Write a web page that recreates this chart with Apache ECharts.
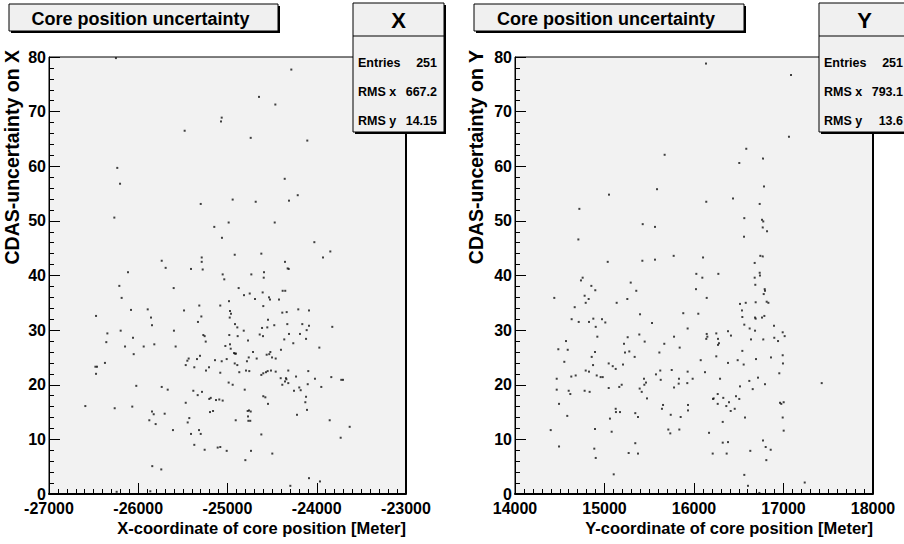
<!DOCTYPE html>
<html>
<head>
<meta charset="utf-8">
<script src="https://cdn.jsdelivr.net/npm/echarts@6/dist/echarts.min.js"></script>
<style>
  html, body { margin: 0; padding: 0; background: #fff; }
  #chart { width: 904px; height: 544px; }
</style>
</head>
<body>
<div id="chart"></div>
<script>
// Shower core position (X and Y, metres) against the CDAS core uncertainty.
const coreX = [
  -26250, -25065, -25073, -25480, -26235, -26204, -26268, -25300, -24942, -24987, -25148, -25062,
  -24285, -24647, -24464, -24740, -24106, -24359, -24213, -24311, -24684, -24471, -24027,
  -26473, -26480, -26462, -26473, -26373, -26346, -26358, -26593, -26264, -26212, -26186, -26115,
  -26197, -26081, -26148, -26059, -26051, -26022, -26067, -25939, -25894, -25857, -25846, -25820,
  -25737, -25693, -25603, -25600, -25581, -25737, -25670, -25876, -25846, -25827, -25805, -25704,
  -25611, -25843, -25742, -25865, -26242, -25487, -25468, -25450, -25435, -25468, -25446, -25428,
  -25409, -25409, -25383, -25372, -25372, -25342, -25334, -25331, -25316, -25308, -25319, -25300,
  -25293, -25289, -25289, -25278, -25286, -25271, -25256, -25244, -25241, -25256, -25207, -25204,
  -25188, -25196, -25162, -25140, -25129, -25092, -25081, -25081, -25065, -25054, -25110, -25081,
  -25009, -25054, -25036, -25024, -25009, -24987, -24983, -24975, -24972, -24961, -24980, -24972,
  -24964, -24942, -24927, -24916, -24916, -24905, -24919, -24908, -24919, -24890, -24886, -24890,
  -24875, -24868,
  -24621, -23848, -23930, -24356, -24326, -24314, -24733, -24591, -24594, -24815, -24751, -24692,
  -24606, -24599, -24535, -24524, -24423, -24382, -24353, -24386, -24337, -24207, -24087, -24546,
  -24613, -24554, -24476, -24330, -24162, -24087, -24113, -23826, -24818, -24639, -24602, -24311,
  -24188, -24364, -24120, -24770, -24263, -23971, -24401, -24714, -24520, -24532, -24561, -24762,
  -24782, -24673, -24501, -24460, -24793, -24756, -24621, -24599, -24569, -24550, -24513, -24460,
  -24319, -24095, -24232, -24404, -24345, -24340, -24356, -24319, -24386, -24020, -23837, -23725,
  -23706, -24101, -23949, -24255, -24196, -24180, -24807, -24599, -24576, -24546, -24120, -24128,
  -24109, -24221, -24774, -24759, -24740, -24770, -24766, -24745, -23855, -23631, -23732, -24621,
  -24737, -24800, -24498, -24087, -23964, -24296
];
const errOnX = [
  79.8, 68.9, 68.2, 66.5, 59.7, 56.8, 50.6, 53.1, 53.9, 49.7, 48.9, 46.9,
  77.7, 72.7, 71.3, 65.2, 64.7, 57.7, 54.7, 53.7, 53.5, 49.7, 46.1,
  32.6, 23.3, 23.3, 22.0, 24.0, 29.4, 27.8, 16.1, 15.7, 38.1, 35.9, 40.6,
  29.9, 33.7, 27.0, 28.6, 25.6, 19.8, 16.0, 27.0, 33.8, 32.3, 30.9, 27.4,
  42.7, 41.4, 37.7, 29.9, 27.0, 19.6, 19.1, 13.5, 15.1, 14.6, 12.8, 14.7,
  11.7, 5.1, 4.5, 0.5, 0.4, 33.6, 23.6, 24.4, 24.8, 16.7, 13.1, 13.9,
  11.0, 41.2, 18.9, 23.2, 9.0, 24.7, 18.1, 31.5, 34.5, 25.3, 11.7, 11.0,
  32.5, 43.3, 42.5, 41.1, 18.7, 29.1, 28.9, 27.9, 22.6, 8.1, 23.2, 17.4,
  17.6, 15.0, 15.2, 24.5, 17.2, 17.3, 34.5, 22.2, 24.3, 17.1, 8.5, 8.6,
  7.9, 40.2, 39.3, 27.1, 24.7, 20.4, 35.3, 32.3, 33.5, 33.0, 29.1, 27.4,
  26.6, 20.0, 25.8, 31.1, 25.7, 25.7, 43.8, 13.5, 23.9, 30.5, 28.9, 23.6,
  37.7, 22.3,
  44.0, 44.4, 43.3, 42.5, 41.3, 41.2, 40.2, 40.6, 39.6, 36.4, 36.7, 35.7,
  36.9, 34.4, 36.0, 35.6, 35.6, 37.2, 37.2, 33.2, 33.3, 33.8, 33.6, 31.9,
  30.4, 30.5, 30.9, 31.1, 31.1, 30.8, 30.0, 30.6, 29.9, 29.2, 28.9, 29.3,
  29.3, 28.3, 28.4, 28.1, 27.6, 26.8, 26.4, 26.0, 26.0, 25.6, 25.5, 25.0,
  24.3, 24.8, 25.0, 24.8, 22.6, 22.5, 21.8, 22.1, 22.3, 22.5, 22.6, 22.4,
  22.6, 22.5, 21.5, 21.2, 21.2, 21.0, 20.6, 20.3, 20.0, 21.1, 21.4, 20.9,
  20.9, 20.1, 19.6, 18.9, 19.5, 19.0, 19.1, 17.9, 17.7, 16.5, 17.8, 16.8,
  15.4, 14.5, 15.2, 15.3, 15.1, 14.2, 13.4, 13.4, 13.5, 12.3, 10.3, 10.9,
  7.9, 6.2, 7.4, 2.9, 2.3, 1.5
];

const coreY = [
  15672, 15587, 15050, 14719, 15427, 15564, 14708, 15036, 15423, 15564, 15773,
  16134, 17084, 17061, 16584, 16771, 16506, 16782, 16436, 16137, 16734, 16562, 16760,
  16774, 16768, 16816, 16559, 16101, 16741, 16768, 16678, 16026, 16272, 16734,
  14756, 14737, 14439, 14853, 14897, 14778, 14823, 14790, 14667, 14633, 14712, 14827,
  14875, 14902, 14972, 15009, 15136, 15255, 15293, 15355, 15397, 15531, 15880, 15929,
  14920, 15259, 15389, 15449, 15218, 14570, 14484, 14589, 14894, 15229, 15277, 15337,
  15613, 15668, 15777, 15840, 14857, 14551, 14872, 15047, 15092, 15125, 15207, 14790,
  14827, 14913, 14957, 14980, 14629, 14678, 14466, 14466, 14600, 14618, 14492, 14584,
  14399, 14492, 14778, 14834, 15047, 15165, 15192, 15393, 15416, 15445, 15464, 15441,
  15575, 15623, 15628, 15751, 15777, 15829, 15832, 15929, 15925, 15475, 15125, 15128,
  15173, 15061, 15344, 15374, 15654, 15642, 15740, 15851, 15933, 15933, 14894, 15080,
  15713, 15735, 15836, 14886, 14902, 15344, 15270, 15374, 15103,
  16737, 16678, 16093, 16022, 16685, 16790, 16793, 16779, 16142, 16514, 16578, 16689,
  16812, 16831, 16048, 16536, 16540, 16682, 16689, 16760, 16786, 16562, 16622, 16682,
  16894, 16380, 16413, 16249, 16142, 16149, 16137, 16268, 16279, 16268, 16991, 17013,
  16637, 16774, 16897, 16939, 16540, 16249, 16075, 16488, 16693, 16860, 16991, 16380,
  16555, 16994, 16123, 15985, 16291, 16715, 16953, 16618, 16793, 16514, 16656, 17427,
  16265, 16212, 16220, 16327, 16469, 16506, 16265, 16391, 16361, 16455, 16410, 16570,
  16961, 16975, 17002, 16991, 16321, 16168, 17002, 16771, 16321, 16380, 16801, 16857,
  16209, 16365, 16629, 16808, 16562, 16603, 16730, 17237
];
const errOnY = [
  62.1, 55.8, 54.8, 52.2, 49.4, 48.9, 46.6, 42.5, 42.7, 42.9, 43.6,
  78.8, 76.7, 65.4, 63.2, 61.4, 60.6, 56.3, 54.1, 53.5, 53.1, 50.5, 50.2,
  49.9, 48.8, 48.1, 47.1, 43.3, 43.6, 43.5, 42.3, 40.3, 40.3, 40.5,
  39.6, 39.1, 35.9, 38.1, 37.3, 36.3, 35.7, 35.0, 34.2, 32.0, 31.5, 31.5,
  32.1, 30.6, 32.0, 31.4, 35.0, 35.7, 38.7, 37.2, 32.9, 31.3, 33.1, 30.3,
  28.8, 28.7, 29.2, 27.9, 27.5, 28.0, 26.5, 26.4, 26.0, 25.9, 26.1, 25.1,
  25.9, 27.5, 28.8, 26.8, 25.1, 24.2, 23.6, 23.9, 23.4, 22.9, 23.7, 22.6,
  22.4, 21.7, 21.4, 21.4, 21.5, 21.7, 21.1, 19.1, 18.9, 18.3, 16.5, 14.3,
  11.7, 8.7, 18.9, 18.7, 19.4, 19.6, 20.0, 19.3, 18.7, 20.0, 20.4, 21.1,
  21.9, 22.6, 20.9, 22.7, 19.5, 20.2, 21.1, 22.4, 20.3, 17.5, 15.6, 15.0,
  15.0, 13.8, 14.8, 14.1, 16.3, 15.6, 14.5, 14.1, 16.3, 15.3, 11.9, 11.4,
  11.8, 11.1, 11.8, 8.3, 6.6, 9.3, 7.5, 7.4, 3.6,
  40.0, 39.6, 39.6, 37.5, 38.3, 37.5, 37.2, 36.6, 35.9, 34.8, 35.0, 35.1,
  35.2, 35.0, 33.0, 33.6, 32.4, 32.3, 32.1, 32.3, 32.6, 31.0, 30.3, 29.9,
  30.8, 29.8, 29.0, 29.4, 29.3, 28.8, 28.4, 28.4, 27.6, 27.3, 29.6, 28.9,
  28.3, 28.3, 28.6, 28.0, 26.2, 25.2, 24.5, 24.5, 24.7, 25.0, 25.4, 24.0,
  23.7, 23.9, 22.3, 21.1, 21.1, 21.3, 22.1, 20.7, 20.1, 19.7, 19.2, 20.3,
  18.3, 17.4, 17.5, 17.6, 17.9, 17.4, 16.5, 16.8, 16.1, 15.6, 15.2, 14.0,
  16.7, 16.5, 16.8, 14.0, 13.2, 11.2, 11.6, 9.8, 9.4, 9.5, 8.6, 8.1,
  7.4, 7.4, 7.9, 6.2, 3.5, 1.5, 0.2, 2.1
];

const xTicksX = [-27000, -23000, 1000];
const xTicksY = [14000, 18000, 1000];
const errTicks = [0, 80, 10];

const panelTitle = 'Core position uncertainty';
const statsX = { name: 'X', rows: [['Entries', '251'], ['RMS x', '667.2'], ['RMS y', '14.15']] };
const statsY = { name: 'Y', rows: [['Entries', '251'], ['RMS x', '793.1'], ['RMS y', '13.6']] };
const xTitles = ['X-coordinate of core position [Meter]', 'Y-coordinate of core position [Meter]'];
const yTitles = ['CDAS-uncertainty on X', 'CDAS-uncertainty on Y'];

const FONT = '"Liberation Sans", Arial, Helvetica, sans-serif';
// SVG output keeps every inside tick mark crisp.
const chart = echarts.init(document.getElementById('chart'), null, { renderer: 'svg' });

const frames = [
  { left: 49, top: 57, width: 357, height: 437 },
  { left: 515, top: 57, width: 358, height: 437 }
];

function axisOf(idx, ticks, minor, lineWidth) {
  return {
    type: 'value', gridIndex: idx, min: ticks[0], max: ticks[1], interval: ticks[2], z: 10,
    axisLine: { show: true, onZero: false, lineStyle: { color: '#000', width: lineWidth } },
    axisTick: { show: true, inside: true, length: 11, lineStyle: { color: '#000', width: 1 } },
    minorTick: { show: true, splitNumber: minor, length: 5, lineStyle: { color: '#000', width: 1 } },
    splitLine: { show: false }, minorSplitLine: { show: false },
    axisLabel: { color: '#000', fontFamily: FONT, fontWeight: 'bold', fontSize: 16,
                 margin: lineWidth > 1 ? 6 : 3, formatter: v => String(v) }
  };
}

function pairs(xs, ys) { return xs.map((x, i) => [x, ys[i]]); }

// Title pad, stats box and axis titles for one panel.
function panelDecor(f, titleBox, stats, statsBox, xTitle, yTitle, yTitleX) {
  const g = [];
  // darker right edge of the frame
  g.push({ type: 'line', z: 50, shape: { x1: f.left + f.width, y1: f.top, x2: f.left + f.width, y2: f.top + f.height },
           style: { stroke: '#000', lineWidth: 2 } });
  // title pad with drop shadow
  g.push({ type: 'rect', z: 60, shape: { x: titleBox.x + 2, y: titleBox.y + 2, width: titleBox.w, height: titleBox.h },
           style: { fill: '#000' } });
  g.push({ type: 'rect', z: 61, shape: { x: titleBox.x, y: titleBox.y, width: titleBox.w, height: titleBox.h },
           style: { fill: '#f0f0f0', stroke: '#000', lineWidth: 1 } });
  g.push({ type: 'text', z: 62, x: titleBox.x + titleBox.w / 2 - 3, y: titleBox.y + titleBox.h / 2 + 1,
           style: { text: panelTitle, font: 'bold 18px ' + FONT, fill: '#000', align: 'center', verticalAlign: 'middle' } });
  // statistics box
  const s = statsBox;
  g.push({ type: 'rect', z: 60, shape: { x: s.x + 2, y: s.y + 2, width: s.w, height: s.h }, style: { fill: '#000' } });
  g.push({ type: 'rect', z: 61, shape: { x: s.x, y: s.y, width: s.w, height: s.h },
           style: { fill: '#f0f0f0', stroke: '#000', lineWidth: 1 } });
  g.push({ type: 'line', z: 62, shape: { x1: s.x, y1: s.y + 33, x2: s.x + s.w, y2: s.y + 33 },
           style: { stroke: '#000', lineWidth: 1 } });
  g.push({ type: 'text', z: 62, x: s.x + s.w / 2, y: s.y + 17,
           style: { text: stats.name, font: 'bold 22px ' + FONT, fill: '#000', align: 'center', verticalAlign: 'middle' } });
  stats.rows.forEach((r, i) => {
    const yy = s.y + 60 + i * 29;
    g.push({ type: 'text', z: 62, x: s.x + 5, y: yy,
             style: { text: r[0], font: 'bold 12.5px ' + FONT, fill: '#000', align: 'left', verticalAlign: 'middle' } });
    g.push({ type: 'text', z: 62, x: s.x + 84, y: yy,
             style: { text: r[1], font: 'bold 12.5px ' + FONT, fill: '#000', align: 'right', verticalAlign: 'middle' } });
  });
  // axis titles
  g.push({ type: 'text', z: 40, x: f.left + f.width, y: 528,
           style: { text: xTitle, font: 'bold 16.5px ' + FONT, fill: '#000', align: 'right', verticalAlign: 'middle' } });
  g.push({ type: 'text', z: 40, x: yTitleX, y: 50, rotation: Math.PI / 2,
           style: { text: yTitle, font: 'bold 19.5px ' + FONT, fill: '#000', align: 'right', verticalAlign: 'middle' } });
  return g;
}

const graphics = [].concat(
  panelDecor(frames[0], { x: 9, y: 4, w: 269, h: 27 }, statsX, { x: 353, y: 3, w: 91, h: 129 }, xTitles[0], yTitles[0], 12),
  panelDecor(frames[1], { x: 474, y: 4, w: 270, h: 27 }, statsY, { x: 819, y: 3, w: 91, h: 129 }, xTitles[1], yTitles[1], 476)
);

chart.setOption({
  animation: false,
  grid: frames.map(f => Object.assign({ show: true, backgroundColor: '#f2f2f2', borderColor: '#000', borderWidth: 1 }, f)),
  xAxis: [axisOf(0, xTicksX, 10, 2), axisOf(1, xTicksY, 10, 2)],
  yAxis: [axisOf(0, errTicks, 5, 1), axisOf(1, errTicks, 5, 1)],
  series: [
    { type: 'scatter', xAxisIndex: 0, yAxisIndex: 0, data: pairs(coreX, errOnX),
      symbol: 'rect', symbolSize: 2, itemStyle: { color: '#111' }, silent: true },
    { type: 'scatter', xAxisIndex: 1, yAxisIndex: 1, data: pairs(coreY, errOnY),
      symbol: 'rect', symbolSize: 2, itemStyle: { color: '#111' }, silent: true }
  ],
  graphic: graphics
});
</script>
</body>
</html>
